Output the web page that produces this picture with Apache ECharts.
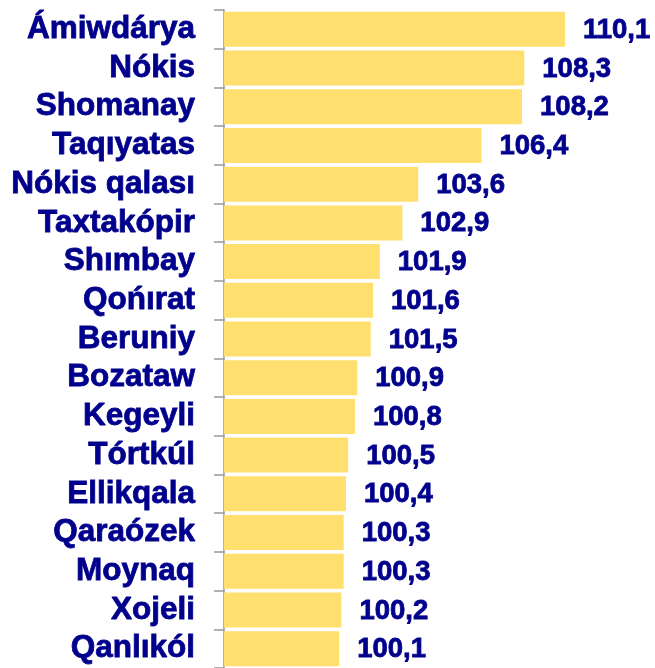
<!DOCTYPE html>
<html>
<head>
<meta charset="utf-8">
<title>Karakalpakstan</title>
<script src="https://cdn.jsdelivr.net/npm/echarts@6/dist/echarts.min.js"></script>
<style>
  html, body { margin: 0; padding: 0; background: #fff; }
  #main { width: 655px; height: 668px; }
</style>
</head>
<body>
<div id="main"></div>
<script>
// rayonlar, joqarıdan tómenge
var regions = ['Ámiwdárya', 'Nókis', 'Shomanay', 'Taqıyatas', 'Nókis qalası', 'Taxtakópir',
  'Shımbay', 'Qońırat', 'Beruniy', 'Bozataw', 'Kegeyli', 'Tórtkúl', 'Ellikqala',
  'Qaraózek', 'Moynaq', 'Xojeli', 'Qanlıkól'];
var values = [110.1, 108.3, 108.2, 106.4, 103.6, 102.9, 101.9, 101.6, 101.5, 100.9,
  100.8, 100.5, 100.4, 100.3, 100.3, 100.2, 100.1];

var textColor = '#00008C';
var chart = echarts.init(document.getElementById('main'));

chart.setOption({
  animation: false,
  grid: { left: 224, right: 2, top: 10, bottom: -5, containLabel: false },
  xAxis: {
    type: 'value',
    min: 95,
    max: 114,
    show: false
  },
  yAxis: {
    type: 'category',
    data: regions,
    inverse: true,
    axisLine: { show: true, lineStyle: { color: '#999', width: 1.5 } },
    axisTick: { show: true, length: 10, interval: 0, lineStyle: { color: '#999', width: 1.5 } },
    axisLabel: {
      interval: 0,
      margin: 29,
      color: textColor,
      fontFamily: 'Liberation Sans, Arial, sans-serif',
      fontWeight: 'bold',
      fontSize: 31.5,
      textBorderColor: textColor,
      textBorderWidth: 0.8
    }
  },
  series: [{
    type: 'bar',
    data: values,
    barWidth: 35,
    itemStyle: { color: '#FFDF6E' },
    label: {
      show: true,
      position: 'right',
      distance: 18,
      offset: [0, 1],
      color: textColor,
      fontFamily: 'Liberation Sans, Arial, sans-serif',
      fontWeight: 'bold',
      fontSize: 27.5,
      textBorderColor: textColor,
      textBorderWidth: 0.8,
      formatter: function (p) {
        return p.value.toFixed(1).replace('.', ',');
      }
    }
  }]
});
</script>
</body>
</html>
